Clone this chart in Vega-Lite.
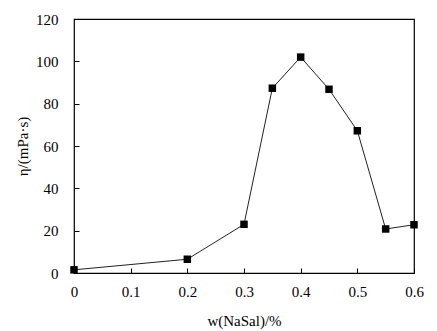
{
  "$schema": "https://vega.github.io/schema/vega-lite/v6.json",
  "width": 340,
  "height": 254,
  "autosize": "none",
  "padding": {"left": 74, "top": 19, "right": 23, "bottom": 58},
  "background": "white",
  "config": {
    "view": {"stroke": "black", "strokeWidth": 1.2},
    "font": "Liberation Serif",
    "axis": {
      "grid": false,
      "domain": false,
      "ticks": true,
      "tickColor": "black",
      "tickSize": -5,
      "labelFont": "Liberation Serif",
      "labelFontSize": 15,
      "labelColor": "black",
      "titleFont": "Liberation Serif",
      "titleFontSize": 15,
      "titleFontWeight": "normal",
      "titleColor": "black"
    }
  },
  "data": {
    "values": [
      {"w": 0.0, "eta": 1.5},
      {"w": 0.2, "eta": 6.5},
      {"w": 0.3, "eta": 23},
      {"w": 0.35, "eta": 87.3},
      {"w": 0.4, "eta": 102},
      {"w": 0.45, "eta": 86.8},
      {"w": 0.5, "eta": 67.2},
      {"w": 0.55, "eta": 20.8},
      {"w": 0.6, "eta": 22.8}
    ]
  },
  "encoding": {
    "x": {
      "field": "w", "type": "quantitative",
      "scale": {"domain": [0, 0.6], "nice": false, "zero": false},
      "axis": {"title": "w(NaSal)/%", "values": [0, 0.1, 0.2, 0.3, 0.4, 0.5, 0.6], "format": "~g", "labelPadding": 16, "titlePadding": 14, "labelFlush": false}
    },
    "y": {
      "field": "eta", "type": "quantitative",
      "scale": {"domain": [0, 120], "nice": false},
      "axis": {"title": "η/(mPa·s)", "values": [0, 20, 40, 60, 80, 100, 120], "labelPadding": 21, "titlePadding": 5, "labelFlush": false}
    }
  },
  "layer": [
    {"mark": {"type": "line", "color": "#222", "strokeWidth": 1}},
    {"mark": {"type": "square", "color": "black", "opacity": 1, "filled": true, "size": 56}}
  ]
}
